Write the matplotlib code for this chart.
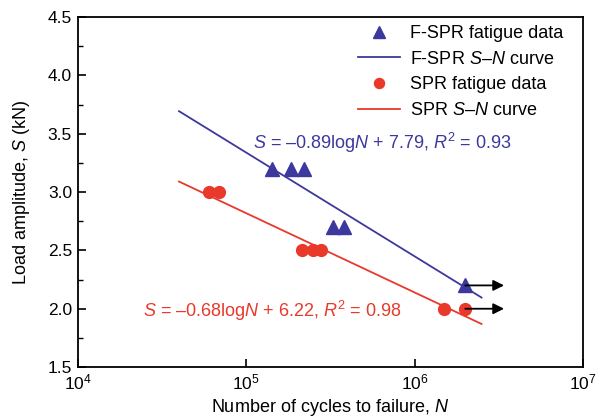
import numpy as np
from matplotlib import pyplot as plt
from matplotlib.ticker import MultipleLocator, NullLocator, FixedLocator

plt.rcParams['font.family'] = ['Liberation Sans', 'DejaVu Sans']
plt.rcParams['mathtext.fontset'] = 'custom'
plt.rcParams['mathtext.rm'] = 'Liberation Sans'
plt.rcParams['mathtext.it'] = 'Liberation Sans:italic'
plt.rcParams['mathtext.default'] = 'regular'

# F-SPR fatigue data
fspr_N = [1.43e5, 1.85e5, 2.2e5, 3.3e5, 3.8e5, 2.0e6]
fspr_S = [3.2, 3.2, 3.2, 2.7, 2.7, 2.2]
# SPR fatigue data
spr_N = [6.0e4, 6.9e4, 2.15e5, 2.5e5, 2.8e5, 1.5e6, 2.0e6]
spr_S = [3.0, 3.0, 2.5, 2.5, 2.5, 2.0, 2.0]

# S-N curve fits: S = a*logN + b
fspr_fit = (-0.89, 7.79)
spr_fit = (-0.68, 6.22)
fit_range = (4.0e4, 2.5e6)

# run-outs (did not fail)
runout_N = [2.0e6, 2.0e6]
runout_S = [2.2, 2.0]
runout_end = 3.4e6

blue = '#3d389e'
red = '#e8392b'
fs = 13


def main():
    fig = plt.figure(figsize=(6.06, 4.19), dpi=100)
    ax = fig.add_axes([0.128, 0.124, 0.834, 0.835])

    n_line = np.logspace(np.log10(fit_range[0]), np.log10(fit_range[1]), 50)

    ax.plot(fspr_N, fspr_S, '^', color=blue, ms=9.5, mec=blue, label='F-SPR fatigue data', zorder=3)
    ax.plot(n_line, fspr_fit[0] * np.log10(n_line) + fspr_fit[1], '-', color=blue, lw=1.3,
            label='F-SPR $\\mathit{S}$–$\\mathit{N}$ curve')
    ax.plot(spr_N, spr_S, 'o', color=red, ms=8.5, mec=red, label='SPR fatigue data', zorder=3)
    ax.plot(n_line, spr_fit[0] * np.log10(n_line) + spr_fit[1], '-', color=red, lw=1.3,
            label='SPR $\\mathit{S}$–$\\mathit{N}$ curve')

    for n, s in zip(runout_N, runout_S):
        ax.annotate('', xy=(runout_end, s), xytext=(n, s),
                    arrowprops=dict(arrowstyle='-|>', color='black', lw=1.3,
                                    mutation_scale=16, shrinkA=0, shrinkB=0), zorder=4)

    ax.text(1.1e5, 3.42, '$\\mathit{S}$ = –0.89log$\\mathit{N}$ + 7.79, $\\mathit{R}^2$ = 0.93',
            color=blue, fontsize=fs, va='center')
    ax.text(2.45e4, 1.98, '$\\mathit{S}$ = –0.68log$\\mathit{N}$ + 6.22, $\\mathit{R}^2$ = 0.98',
            color=red, fontsize=fs, va='center')

    ax.set_xscale('log')
    ax.set_xlim(1e4, 1e7)
    ax.set_ylim(1.5, 4.5)
    ax.xaxis.set_major_locator(FixedLocator([1e4, 1e5, 1e6, 1e7]))
    ax.set_xticklabels(['$10^4$', '$10^5$', '$10^6$', '$10^7$'])
    ax.xaxis.set_minor_locator(NullLocator())
    ax.yaxis.set_major_locator(MultipleLocator(0.5))
    ax.yaxis.set_minor_locator(MultipleLocator(0.25))
    ax.yaxis.set_major_formatter(plt.FormatStrFormatter('%.1f'))

    ax.tick_params(axis='both', which='major', direction='in', length=6, width=1.2,
                   labelsize=12.5, top=False, right=False, pad=4)
    ax.tick_params(axis='y', which='minor', direction='in', length=3.5, width=1.0, right=False)
    for sp in ax.spines.values():
        sp.set_linewidth(1.3)

    ax.set_xlabel('Number of cycles to failure, $\\mathit{N}$', fontsize=fs, labelpad=3)
    ax.set_ylabel('Load amplitude, $\\mathit{S}$ (kN)', fontsize=fs, labelpad=11)

    ax.legend(loc='upper right', bbox_to_anchor=(0.929, 0.94), bbox_transform=fig.transFigure,
              frameon=False, borderaxespad=0, borderpad=0, fontsize=fs,
              handlelength=2.3, handletextpad=0.55, labelspacing=0.48, markerscale=0.85)

    plt.savefig('out.png', dpi=100)


if __name__ == '__main__':
    main()
